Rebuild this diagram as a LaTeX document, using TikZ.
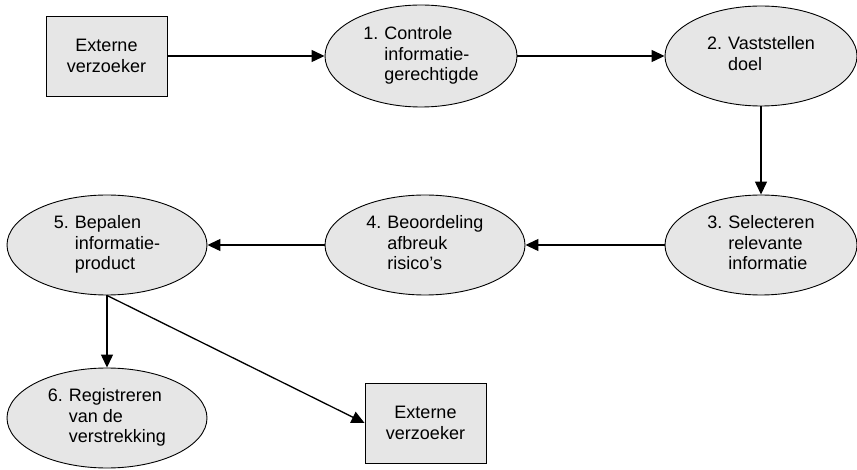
\documentclass[tikz,border=0pt]{standalone}
\usepackage{fontspec}
\setmainfont{Liberation Sans}
\usetikzlibrary{shapes.geometric,arrows.meta}
\definecolor{shade}{HTML}{E6E6E6}
\tikzset{
  proc/.style={ellipse,draw=black,line width=0.9pt,fill=shade,inner sep=0pt,minimum width=198pt,minimum height=100pt,font=\fontsize{18}{20.5}\selectfont},
  ext/.style={rectangle,draw=black,line width=0.9pt,fill=shade,inner sep=0pt,minimum width=121pt,minimum height=80pt,align=center,font=\fontsize{18}{20.5}\selectfont},
  flow/.style={line width=1.3pt,-{Triangle[length=13pt,width=12pt]}}
}
\newcommand{\numlab}[1]{\makebox[21pt][l]{#1.}}
\newcommand{\steptext}[4]{\begin{tabular}{@{}l@{}l@{}}\numlab{#1} & #2\\ & #3\\ & #4\end{tabular}}
\begin{document}
\begin{tikzpicture}[x=1pt,y=-1pt]
\useasboundingbox (0,0) rectangle (857,470);
\node[ext] (x1) at (106.5,56) {Externe\\verzoeker};
\node[proc,minimum width=192pt,minimum height=102pt] (e1) at (421,56) {\steptext{1}{Controle}{informatie-}{gerechtigde}};
\node[proc,minimum width=192pt] (e2) at (761,56) {\begin{tabular}{@{}l@{}l@{}}\numlab{2} & Vaststellen\\ & doel\end{tabular}};
\node[proc,minimum width=192pt] (e3) at (761,245) {\steptext{3}{Selecteren}{relevante}{informatie}};
\node[proc,minimum width=200pt] (e4) at (425,245) {\steptext{4}{Beoordeling}{afbreuk}{risico’s}};
\node[proc,minimum width=200pt] (e5) at (107,245) {\steptext{5}{Bepalen}{informatie-}{product}};
\node[proc,minimum width=200pt] (e6) at (107,418) {\steptext{6}{Registreren}{van de}{verstrekking}};
\node[ext] (x2) at (425.5,423) {Externe\\verzoeker};
\draw[flow] (x1.east) -- (e1.west);
\draw[flow] (e1.east) -- (e2.west);
\draw[flow] (e2.south) -- (e3.north);
\draw[flow] (e3.west) -- (e4.east);
\draw[flow] (e4.west) -- (e5.east);
\draw[flow] (e5.south) -- (e6.north);
\draw[flow] (e5.south) -- (x2.west);
\end{tikzpicture}
\end{document}
